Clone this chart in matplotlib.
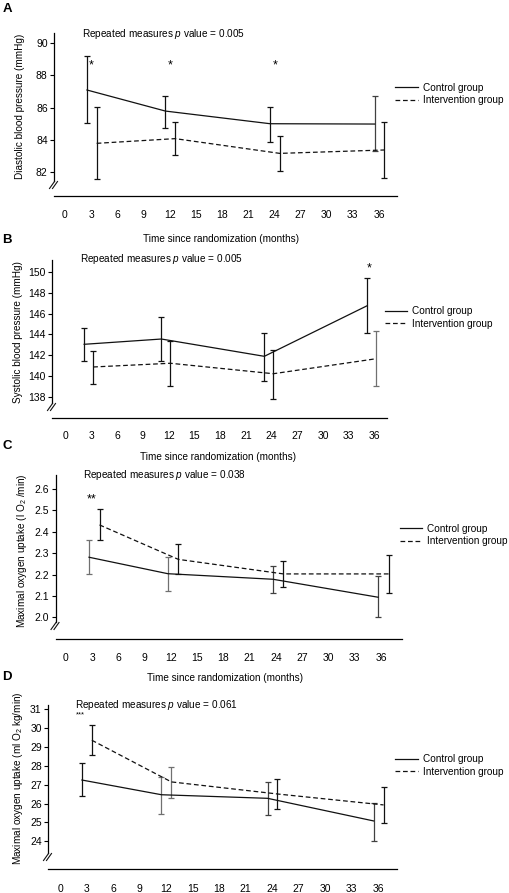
import matplotlib
matplotlib.use('Agg')
import matplotlib.pyplot as plt
from matplotlib.lines import Line2D

plt.rcParams['font.family'] = ['Liberation Sans', 'DejaVu Sans']
plt.rcParams['mathtext.fontset'] = 'custom'
plt.rcParams['mathtext.rm'] = 'Liberation Sans'
plt.rcParams['mathtext.it'] = 'Liberation Sans:italic'
plt.rcParams['lines.scale_dashes'] = False

# ---------------- data ----------------
months = [3, 12, 24, 36]
x_ticks = list(range(0, 37, 3))
series_names = ['Control group', 'Intervention group']
xlabel_text = 'Time since randomization (months)'

# A: diastolic blood pressure (mmHg)
dbp_ctrl = [87.08, 85.78, 85.00, 84.98]
dbp_ctrl_lo = [85.02, 84.74, 83.87, 83.34]
dbp_ctrl_hi = [89.18, 86.73, 86.05, 86.73]
dbp_int = [83.79, 84.08, 83.17, 83.38]
dbp_int_lo = [81.57, 83.07, 82.10, 81.67]
dbp_int_hi = [86.05, 85.09, 84.26, 85.09]
dbp_yticks = [82, 84, 86, 88, 90]
dbp_sig_months = [3, 12, 24]
dbp_sig_marks = ['*', '*', '*']
dbp_sig_y = [88.6, 88.6, 88.6]
dbp_p = '0.005'

# B: systolic blood pressure (mmHg)
sbp_ctrl = [143.05, 143.56, 141.89, 146.78]
sbp_ctrl_lo = [141.44, 141.44, 139.54, 144.17]
sbp_ctrl_hi = [144.59, 145.71, 144.17, 149.42]
sbp_int = [140.86, 141.22, 140.21, 141.66]
sbp_int_lo = [139.25, 139.03, 137.77, 138.99]
sbp_int_hi = [142.43, 143.37, 142.53, 144.36]
sbp_yticks = [138, 140, 142, 144, 146, 148, 150]
sbp_sig_months = [36]
sbp_sig_marks = ['*']
sbp_sig_y = [150.4]
sbp_p = '0.005'

# C: maximal oxygen uptake (l O2/min)
vo2_ctrl = [2.281, 2.204, 2.178, 2.094]
vo2_ctrl_lo = [2.204, 2.123, 2.115, 2.003]
vo2_ctrl_hi = [2.360, 2.284, 2.241, 2.193]
vo2_int = [2.432, 2.271, 2.203, 2.203]
vo2_int_lo = [2.360, 2.201, 2.143, 2.115]
vo2_int_hi = [2.505, 2.343, 2.262, 2.291]
vo2_yticks = [2.0, 2.1, 2.2, 2.3, 2.4, 2.5, 2.6]
vo2_sig_months = [3]
vo2_sig_marks = ['**']
vo2_sig_y = [2.552]
vo2_p = '0.038'

# D: maximal oxygen uptake (ml O2 kg/min)
rvo2_ctrl = [27.25, 26.47, 26.28, 25.08]
rvo2_ctrl_lo = [26.42, 25.46, 25.40, 24.02]
rvo2_ctrl_hi = [28.17, 27.43, 27.16, 26.02]
rvo2_int = [29.36, 27.15, 26.51, 25.93]
rvo2_int_lo = [28.56, 26.28, 25.70, 24.96]
rvo2_int_hi = [30.15, 27.96, 27.32, 26.86]
rvo2_yticks = [24, 25, 26, 27, 28, 29, 30, 31]
rvo2_sig_months = [3]
rvo2_sig_marks = ['***']
rvo2_sig_y = [30.72]
rvo2_p = '0.061'

# ---------------- layout (pixels) ----------------
W, H = 509, 893
fig = plt.figure(figsize=(W / 100, H / 100), dpi=100)


def fx(px):
    return px / W


def fy(py):
    return 1 - py / H


DARK = '#111111'
GRAY = '#707070'
MID = '#404040'

panels = [
    dict(letter='A', ylabel='Diastolic blood pressure (mmHg)',
         ctrl=(dbp_ctrl, dbp_ctrl_lo, dbp_ctrl_hi), inter=(dbp_int, dbp_int_lo, dbp_int_hi),
         yticks=dbp_yticks, fmt='{:.0f}', sig=(dbp_sig_months, dbp_sig_marks, dbp_sig_y), sig_fs=9,
         sig_dx=0.05, p=dbp_p,
         ecol=([DARK, DARK, DARK, MID], [DARK, DARK, DARK, DARK]),
         box=(54, 397, 33, 181), line_y=196, x0=65, ppm=8.72, off=(-0.48, 0.63),
         ycal=(90, 42.67, 16.21), tick_row=216, xlabel=(221, 239),
         letter_pos=(7, 9), ptxt=(82, 34), leg=(395, 423, 87, 100.7), ylab=(20, 106)),
    dict(letter='B', ylabel='Systolic blood pressure (mmHg)',
         ctrl=(sbp_ctrl, sbp_ctrl_lo, sbp_ctrl_hi), inter=(sbp_int, sbp_int_lo, sbp_int_hi),
         yticks=sbp_yticks, fmt='{:.0f}', sig=(sbp_sig_months, sbp_sig_marks, sbp_sig_y), sig_fs=9,
         sig_dx=-0.6, p=sbp_p,
         ecol=([DARK, DARK, DARK, DARK], [DARK, DARK, DARK, GRAY]),
         box=(52, 387, 260, 403), line_y=417.7, x0=65.7, ppm=8.58, off=(-0.85, 0.2),
         ycal=(150, 272.3, 10.36), tick_row=436, xlabel=(218, 456.7),
         letter_pos=(7, 240), ptxt=(80, 259.3), leg=(385, 411.7, 310.7, 324.7), ylab=(18, 332)),
    dict(letter='C', ylabel='Maximal oxygen uptake (l O$_2$ /min)',
         ctrl=(vo2_ctrl, vo2_ctrl_lo, vo2_ctrl_hi), inter=(vo2_int, vo2_int_lo, vo2_int_hi),
         yticks=vo2_yticks, fmt='{:.1f}', sig=(vo2_sig_months, vo2_sig_marks, vo2_sig_y), sig_fs=9,
         sig_dx=-0.1, p=vo2_p,
         ecol=([GRAY, GRAY, MID, MID], [DARK, DARK, DARK, DARK]),
         box=(55.5, 401.7, 475, 622), line_y=639.3, x0=65.8, ppm=8.76, off=(-0.35, 0.85),
         ycal=(2.6, 489, 213.9), tick_row=658.3, xlabel=(225, 678.3),
         letter_pos=(7, 446), ptxt=(83.3, 475), leg=(400, 426.7, 528.3, 541.7), ylab=(22, 551)),
    dict(letter='D', ylabel='Maximal oxygen uptake (ml O$_2$ kg/min)',
         ctrl=(rvo2_ctrl, rvo2_ctrl_lo, rvo2_ctrl_hi), inter=(rvo2_int, rvo2_int_lo, rvo2_int_hi),
         yticks=rvo2_yticks, fmt='{:.0f}', sig=(rvo2_sig_months, rvo2_sig_marks, rvo2_sig_y), sig_fs=5.5,
         sig_dx=-0.65, p=rvo2_p,
         ecol=([DARK, GRAY, MID, MID], [DARK, GRAY, DARK, DARK]),
         box=(48, 396.7, 705, 853), line_y=869.3, x0=60, ppm=8.84, off=(-0.52, 0.6),
         ycal=(31, 709.3, 18.86), tick_row=889.3, xlabel=None,
         letter_pos=(7, 677.5), ptxt=(75, 705), leg=(395, 423.3, 758.7, 772.3), ylab=(18, 778)),
]

LW = 0.9
FS = 7.2
DASH = (0, (3.4, 2.0))

for P in panels:
    l, r, t, b = P['box']
    ax = fig.add_axes([fx(l), fy(b), (r - l) / W, (b - t) / H])
    ax.patch.set_alpha(0)
    ax.set_xlim((l - P['x0']) / P['ppm'], (r - P['x0']) / P['ppm'])
    v0, y0, ppu = P['ycal']
    ax.set_ylim(v0 - (b - y0) / ppu, v0 - (t - y0) / ppu)

    for key in ('top', 'right'):
        ax.spines[key].set_visible(False)
    ax.spines['left'].set_linewidth(LW)
    ax.spines['bottom'].set_linewidth(LW)
    ax.spines['bottom'].set_position(('outward', (P['line_y'] - b) * 0.72))

    ax.set_xticks(x_ticks)
    ax.set_xticklabels([str(v) for v in x_ticks])
    ax.tick_params(axis='x', length=0, labelsize=7.5, pad=(P['tick_row'] - P['line_y'] - 5.5) * 0.72)
    ax.set_yticks(P['yticks'])
    ax.set_yticklabels([P['fmt'].format(v) for v in P['yticks']])
    ax.tick_params(axis='y', length=3, width=0.8, labelsize=7.5, pad=1.5)

    styles = [('-', P['ctrl'], P['off'][0], P['ecol'][0]),
              (DASH, P['inter'], P['off'][1], P['ecol'][1])]
    handles = []
    for ls, (m, lo, hi), off, cols in styles:
        xs = [mo + off for mo in months]
        ln, = ax.plot(xs, m, color=DARK, lw=LW, ls=ls, zorder=3)
        for xi, mi, a, c, col in zip(xs, m, lo, hi, cols):
            ax.errorbar([xi], [mi], yerr=[[mi - a], [c - mi]], fmt='none', ecolor=col,
                        elinewidth=LW, capsize=2.2, capthick=LW, zorder=2)
        handles.append(ln)

    sm, sl, sy = P['sig']
    for mo, mark, yv in zip(sm, sl, sy):
        ax.text(mo + P['sig_dx'], yv, mark, ha='center', va='center', fontsize=P['sig_fs'])

    # axis break marks
    sx, sb = l, b + 4
    for dx in (-2.0, 1.0):
        fig.add_artist(Line2D([fx(sx + dx - 2.5), fx(sx + dx + 2.5)], [fy(sb + 3.5), fy(sb - 3.5)],
                              transform=fig.transFigure, color=DARK, lw=0.8))

    # legend
    lx, tx, ly1, ly2 = P['leg']
    fs_px = FS * 100 / 72
    ax.legend(handles, series_names, loc='center left',
              bbox_to_anchor=(fx(lx), fy((ly1 + ly2) / 2)), bbox_transform=fig.transFigure,
              frameon=False, borderaxespad=0, borderpad=0, fontsize=FS,
              handlelength=(tx - lx - 5) / fs_px, handletextpad=5 / fs_px,
              labelspacing=0.25)

    # texts
    fig.text(fx(P['ptxt'][0]), fy(P['ptxt'][1]), 'Repeated measures $p$ value = ' + P['p'],
             ha='left', va='center', fontsize=FS)
    fig.text(fx(P['ylab'][0]), fy(P['ylab'][1]), P['ylabel'], rotation=90,
             ha='center', va='center', fontsize=FS)
    if P['xlabel'] is not None:
        fig.text(fx(P['xlabel'][0]), fy(P['xlabel'][1]), xlabel_text,
                 ha='center', va='center', fontsize=FS)
    fig.text(fx(P['letter_pos'][0]), fy(P['letter_pos'][1]), P['letter'],
             ha='center', va='center', fontsize=9.5, fontweight='bold')

fig.savefig('out.png', dpi=100)
